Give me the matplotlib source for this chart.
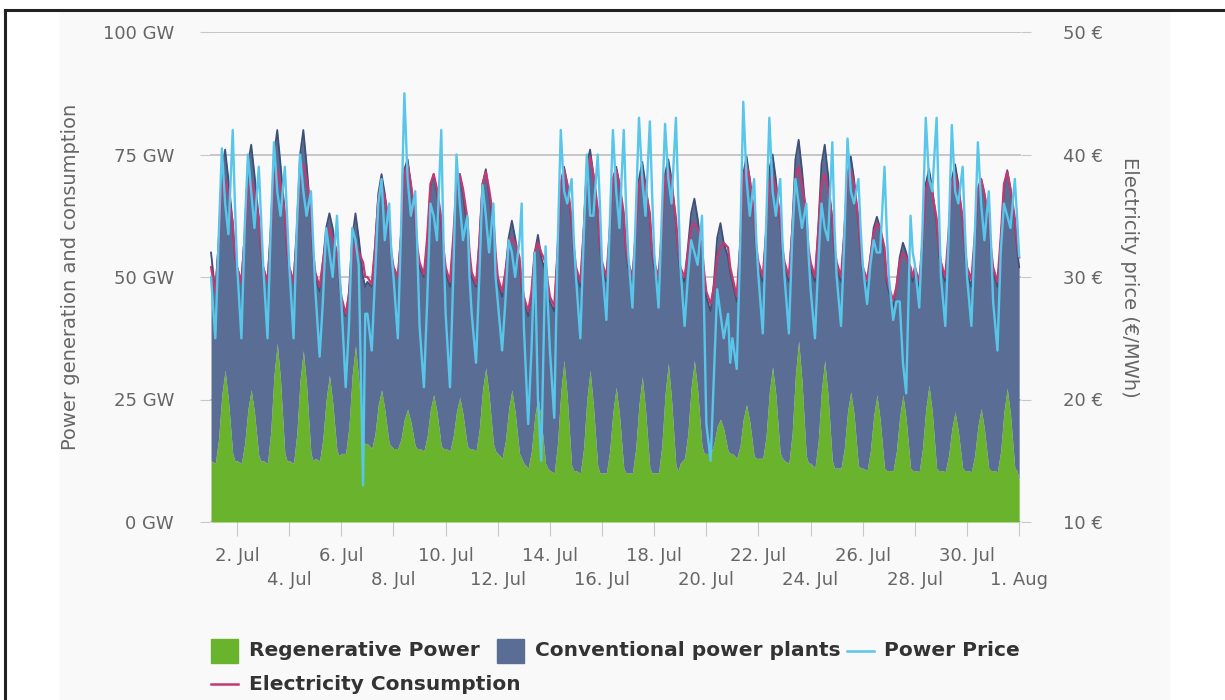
import numpy as np
import matplotlib
matplotlib.use('Agg')
import matplotlib.pyplot as plt
from matplotlib.patches import Rectangle
from matplotlib.lines import Line2D

# sample hours inside each day (1 Jul .. 31 Jul), one row per day
sample_hours = [0, 4, 7, 10, 13, 16, 20, 22]

# GW
regenerative = [
    [12.5, 12, 17, 26, 31, 25, 14, 12.5],
    [12.5, 12, 16, 23, 27, 22.5, 13.5, 12.5],
    [12.5, 12, 18.5, 30, 36.5, 29, 14, 12.5],
    [12.5, 12, 18, 29, 35, 28, 14, 12.5],
    [13, 12.5, 17, 25, 30, 24.5, 14.5, 13.5],
    [14, 14, 19.5, 30, 36, 29, 16.5, 16],
    [16, 15, 18, 24, 27, 23, 16, 15.5],
    [15, 15, 17, 21, 23, 20.5, 15.5, 15],
    [15, 14.5, 17.5, 23, 26, 22.5, 15.5, 15],
    [15, 14.5, 17.5, 22.5, 25.5, 22, 15.5, 15],
    [15, 14.5, 19, 27, 31.5, 26, 16, 14.5],
    [14, 13, 16.5, 23, 27, 22.5, 14, 13],
    [12, 11, 14.5, 21.5, 25.5, 21, 12, 11],
    [10.5, 10, 16, 26.5, 33, 25.5, 11.5, 10.5],
    [10.5, 10, 15, 25, 31, 24, 11.5, 10],
    [10, 10, 14.5, 22.5, 27.5, 22, 11, 10],
    [10, 10, 15, 24, 29.7, 23, 11, 10],
    [10, 10, 15.5, 26, 32.4, 25, 11.5, 10.5],
    [12, 13, 18, 27.5, 33, 27, 15.5, 14],
    [14, 14, 16, 19.5, 21, 19, 14.5, 14],
    [14, 13, 15.5, 21, 24, 20.5, 13.5, 13],
    [13, 13, 17.5, 26.5, 31.7, 26, 14, 13],
    [12.5, 12, 18, 30, 37, 29, 13.5, 12],
    [12, 11, 16.5, 27, 33, 26, 12.5, 11],
    [11, 11, 15, 22.5, 26.6, 22, 11.5, 11],
    [11, 10.5, 14.5, 21.5, 26, 21, 11, 10.5],
    [10.5, 10.5, 14.5, 21.5, 26, 21, 11, 10.5],
    [10.5, 10.3, 15, 23, 28, 22.5, 11, 10.5],
    [10.5, 10.3, 13.5, 19, 22.5, 18.5, 11, 10.5],
    [10.5, 10.3, 13.5, 19.5, 23.2, 19, 11, 10.5],
    [10.5, 10.3, 14.5, 22.5, 27.3, 22, 11, 10.5],
]

# GW, top of the stacked area (regenerative + conventional)
generation_total = [
    [55, 47, 57, 72, 76, 70, 61, 54],
    [52, 49, 59, 73, 77, 71, 62, 55],
    [52, 49, 60, 75, 80, 73, 63, 55],
    [52, 49, 60, 75, 80, 73, 62, 54],
    [50, 47, 53, 60, 63, 60, 54, 49],
    [45, 42, 47, 58, 63, 58, 50, 48],
    [49, 48, 56, 67, 71, 67, 60, 54],
    [52, 50, 59, 72, 74, 69, 61, 55],
    [52, 50, 57, 68, 71, 67, 61, 55],
    [51, 48, 57, 68, 71, 67, 60, 54],
    [50, 48, 57, 69, 72, 67, 60, 54],
    [49, 46, 51, 58, 61.5, 58, 53, 48],
    [45, 42, 46, 55, 58.6, 54, 51, 48],
    [45, 43, 55, 69, 72.5, 69, 61, 55],
    [51, 48, 59, 73, 76, 71, 63, 56],
    [52, 49, 59, 70, 72.5, 69, 62, 55],
    [52, 49, 59, 70, 73.5, 69, 62, 55],
    [52, 49, 59, 71, 74, 70, 61, 55],
    [51, 49, 56, 63, 66, 62, 55, 50],
    [46, 43, 49, 58, 61, 57, 54, 51],
    [49, 45, 56, 71, 74.6, 70, 62, 55],
    [52, 49, 59, 72, 75, 70, 61, 55],
    [52, 49, 60, 74, 78, 72, 62, 55],
    [52, 49, 60, 73, 77, 71, 61, 55],
    [52, 49, 59, 71, 74.6, 70, 61, 55],
    [51, 48, 54, 60, 62.3, 60, 55, 49],
    [47, 44, 48, 54, 57, 55, 51, 49],
    [51, 48, 57, 69, 72, 68, 61, 55],
    [52, 49, 58, 70, 73, 69, 61, 55],
    [51, 48, 57, 67, 70, 67, 61, 55],
    [51, 48, 57, 68, 71.8, 68, 61, 56],
]

# GW, pink line
consumption = [
    [52, 47, 56, 68, 70, 67, 61, 55],
    [52, 49, 58, 68, 70, 67, 62, 56],
    [52, 49, 58, 70, 72, 69, 63, 56],
    [52, 49, 58, 71, 73, 70, 63, 55],
    [51, 48, 53, 58, 60, 58, 55, 50],
    [46, 42.5, 46, 54, 57, 55, 53, 50],
    [50, 48.5, 56, 66, 69, 66, 61, 55],
    [52, 50, 58, 71, 73, 69, 62, 56],
    [53, 50.5, 58, 69, 71, 68, 62, 56],
    [52, 49, 58, 69, 71, 68, 62, 55],
    [51, 48.5, 57, 69, 71.5, 68, 62, 55],
    [50, 47, 51, 56, 58, 57, 54, 49],
    [46, 43, 47, 55, 57, 55, 53, 49],
    [46, 44, 55, 69, 72, 69, 62, 56],
    [52, 49, 59, 72, 74.5, 71, 64, 57],
    [53, 50, 59, 70, 72, 69, 63, 56],
    [53, 50, 59, 69, 71, 68, 63, 56],
    [53, 50, 59, 70, 72, 69, 62, 56],
    [52, 50, 55, 60, 61, 60, 56, 51],
    [47, 44.5, 48, 54, 56, 57, 56, 52],
    [50, 46, 56, 70, 73, 70, 63, 56],
    [53, 50, 59, 69, 71, 68, 62, 56],
    [53, 50, 59, 70, 72.5, 69, 63, 56],
    [53, 50, 59, 69, 71, 68, 62, 56],
    [53, 50, 59, 70, 72, 69, 62, 56],
    [52, 49.4, 54, 59, 61, 60, 56, 50],
    [48, 45.3, 48, 53, 55, 54, 52, 50],
    [52, 49, 57, 68, 70, 67, 62, 56],
    [53, 50, 59, 69, 71, 68, 62, 56],
    [52, 49.5, 58, 68, 70, 67, 62, 56],
    [52, 49, 58, 69, 71.5, 68, 62, 57],
]

# EUR/MWh, light blue line on the right axis
power_price = [
    [30, 25, 33, 40.5, 36, 33.5, 42, 36],
    [31, 25, 34, 40, 37, 34, 39, 35],
    [31, 25, 34, 41, 37, 35, 39, 35],
    [31, 25, 34, 40, 37, 35, 37, 33],
    [29, 23.5, 28, 34, 32, 30, 35, 31],
    [28, 21, 26, 34, 33, 31, 13, 27],
    [27, 24, 30, 36, 38, 33, 36, 32],
    [30, 25, 34, 45, 38, 35, 37, 32],
    [26, 21, 28, 36, 35, 33, 42, 33],
    [27, 21, 30, 40, 36, 33, 35, 30],
    [27, 23, 30, 37.5, 35, 32, 36, 30],
    [28, 24, 28, 33, 32, 30, 33, 36],
    [26, 18, 24, 32, 20, 15, 32.5, 28],
    [24, 18.5, 32, 42, 37, 36, 38, 33],
    [30, 25, 33, 40, 35, 35, 40, 36],
    [31, 26.5, 34, 42, 37, 34, 42, 36],
    [32, 27.5, 35, 43, 38, 35, 42.7, 37],
    [32, 27.5, 35, 42.5, 38, 36, 43, 37],
    [31, 26, 30, 33, 32, 31, 35, 27],
    [18, 15, 22, 29, 27, 25, 27, 23],
    [25, 22.5, 32, 44.3, 38, 35, 38, 33],
    [30, 25.4, 34, 43, 37, 35, 38, 33],
    [30, 25.4, 33, 38, 36, 34, 36, 32],
    [29, 25, 31, 36, 34, 33, 41, 34],
    [30, 26, 33, 41.3, 37, 36, 38, 34],
    [31, 27.8, 31, 33, 32, 32, 39, 34],
    [30, 26.5, 28, 28, 23, 20.5, 35, 32],
    [31, 27.5, 34, 43, 38, 37, 43, 36],
    [30, 26, 33, 42.4, 37, 36, 39, 34],
    [30, 26, 33, 41, 36, 33, 37, 33],
    [28, 24, 32, 36, 35, 34, 38, 35],
]

# last sample, 1 Aug 00:00
end_regenerative = 8.6
end_total = 52
end_consumption = 54
end_price = 31.7

tick_days = [1, 3, 5, 7, 9, 11, 13, 15, 17, 19, 21, 23, 25, 27, 29, 31]
tick_labels = ['2. Jul', '4. Jul', '6. Jul', '8. Jul', '10. Jul', '12. Jul', '14. Jul',
               '16. Jul', '18. Jul', '20. Jul', '22. Jul', '24. Jul', '26. Jul',
               '28. Jul', '30. Jul', '1. Aug']
gw_ticks = [0, 25, 50, 75, 100]
eur_ticks = [10, 20, 30, 40, 50]

GREEN = '#6ab42d'
NAVY = '#5a6d95'
NAVY_EDGE = '#3f5078'
PINK = '#c23a72'
CYAN = '#58c6ea'
GREY_TXT = '#666666'
W, H = 1225, 700


def flat(rows, last):
    return np.append(np.array(rows, dtype=float).ravel(), last)


days = np.arange(len(regenerative))
x = (days[:, None] + np.array(sample_hours)[None, :] / 24.0).ravel()
x = np.append(x, float(len(regenerative)))

regen = flat(regenerative, end_regenerative)
total = flat(generation_total, end_total)
cons = flat(consumption, end_consumption)
price = flat(power_price, end_price)

fig = plt.figure(figsize=(W / 100, H / 100), dpi=100)
# light grey panel and the black frame
fig.patches.append(Rectangle((60 / W, 0), (1169 - 60) / W, 1 - 12 / H,
                             transform=fig.transFigure, color='#f9f9f9', zorder=-10))
fig.add_artist(Line2D([5 / W, 1], [1 - 10 / H] * 2, color='#222222', lw=2.2))
fig.add_artist(Line2D([5 / W] * 2, [0, 1 - 10 / H], color='#222222', lw=2.2))

left_px, right_px, top_px, bottom_px = 210, 1021, 32, 522
ax = fig.add_axes([left_px / W, 1 - bottom_px / H,
                   (right_px - left_px) / W, (bottom_px - top_px) / H])
ax.set_facecolor('none')

ax.fill_between(x, 0, regen, color=GREEN, lw=0, zorder=2)
ax.fill_between(x, regen, total, color=NAVY, lw=0, zorder=2)
ax.plot(x, total, color=NAVY_EDGE, lw=1.3, zorder=3)
ax.plot(x, cons, color=PINK, lw=1.6, zorder=4)

px_per_day = 26.07
ax.set_xlim((left_px - 211) / px_per_day, (right_px - 211) / px_per_day)
ax.set_ylim(0, 100)
ax.set_yticks(gw_ticks)
ax.set_yticklabels(['%d GW' % v for v in gw_ticks])
ax.grid(axis='y', color='#bdbdbd', lw=1.2, zorder=0)
ax.set_axisbelow(True)
for s in ax.spines.values():
    s.set_visible(False)

ax.set_xticks(tick_days)
ax.set_xticklabels([lab if i % 2 == 0 else '\n' + lab for i, lab in enumerate(tick_labels)],
                   linespacing=1.45)
ax.tick_params(axis='x', length=10, color='#c8c8c8', labelcolor=GREY_TXT, labelsize=13, pad=8)
ax.tick_params(axis='y', length=7, color='#c8c8c8', labelcolor=GREY_TXT, labelsize=13, pad=19)
ax.set_ylabel('Power generation and consumption', fontsize=14, color=GREY_TXT)
ax.yaxis.set_label_coords((80 - left_px) / (right_px - left_px), 0.5)

tw = ax.twinx()
tw.plot(x, price, color=CYAN, lw=1.7, zorder=5)
tw.set_ylim(10, 50)
tw.set_yticks(eur_ticks)
tw.set_yticklabels(['%d €' % v for v in eur_ticks])
tw.tick_params(axis='y', length=7, color='#c8c8c8', labelcolor=GREY_TXT, labelsize=13, pad=23)
for s in tw.spines.values():
    s.set_visible(False)
tw.set_ylabel('Electricity price (€/MWh)', fontsize=14, color=GREY_TXT, rotation=270, va='center')
tw.yaxis.set_label_coords((1130 - left_px) / (right_px - left_px), 0.5)

# legend, laid out in a flowing row like the original
def fx(p):
    return p / W


def fy(p):
    return 1 - p / H


legend_txt = dict(fontsize=14.5, fontweight='bold', color='#333333', va='center', ha='left')
row1, row2 = 651, 684
fig.patches.append(Rectangle((fx(211), fy(663)), 27 / W, 24 / H, transform=fig.transFigure, color=GREEN))
fig.text(fx(249), fy(row1), 'Regenerative Power', **legend_txt)
fig.patches.append(Rectangle((fx(497), fy(663)), 27 / W, 24 / H, transform=fig.transFigure, color=NAVY))
fig.text(fx(535), fy(row1), 'Conventional power plants', **legend_txt)
fig.add_artist(Line2D([fx(847), fx(874)], [fy(row1)] * 2, color=CYAN, lw=1.8))
fig.text(fx(884), fy(row1), 'Power Price', **legend_txt)
fig.add_artist(Line2D([fx(211), fx(238)], [fy(row2)] * 2, color=PINK, lw=1.8))
fig.text(fx(249), fy(row2), 'Electricity Consumption', **legend_txt)

fig.savefig('out.png', dpi=100)
